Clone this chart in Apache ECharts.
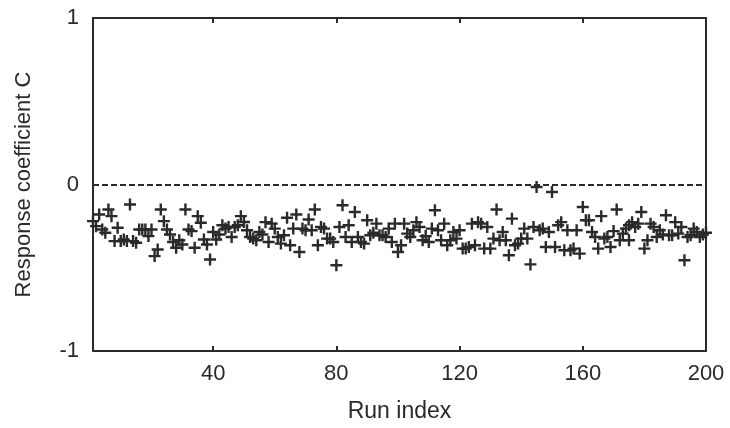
<!DOCTYPE html>
<html>
<head>
<meta charset="utf-8">
<script src="https://cdn.jsdelivr.net/npm/echarts@6/dist/echarts.min.js"></script>
<style>html,body{margin:0;padding:0;background:#fff}#c{width:730px;height:428px}</style>
</head>
<body>
<div id="c"></div>
<script>
var xTicks = [40, 80, 120, 160, 200];
var runIndex = [1,2,3,4,5,6,7,8,9,10,11,12,13,14,15,16,17,18,19,20,21,22,23,24,
  25,26,27,28,29,30,31,32,33,34,35,36,37,38,39,40,41,42,43,44,45,46,47,48,49,50,
  51,52,53,54,55,56,57,58,59,60,61,62,63,64,65,66,67,68,69,70,71,72,73,74,75,
  76,77,78,79,80,81,82,83,84,85,86,87,88,89,90,91,92,93,94,95,96,97,98,99,100,
  101,102,103,104,105,106,107,108,109,110,111,112,113,114,115,116,117,118,119,120,121,122,123,124,
  125,126,127,128,129,130,131,132,133,134,135,136,137,138,139,140,141,142,143,144,145,146,147,148,149,150,151,
  152,153,154,155,156,157,158,159,160,161,162,163,164,165,166,167,168,169,170,171,172,173,174,175,175,176,
  177,178,179,180,181,182,183,184,185,186,187,188,189,190,191,192,193,194,195,196,197,198,199,200];
var coeff = [-0.22,-0.25,-0.18,-0.27,-0.29,-0.15,-0.19,-0.34,-0.26,-0.34,-0.33,-0.34,-0.12,-0.34,-0.35,-0.27,-0.27,-0.27,-0.31,-0.27,-0.43,-0.39,-0.15,-0.22,
  -0.27,-0.30,-0.345,-0.38,-0.335,-0.36,-0.15,-0.27,-0.28,-0.38,-0.19,-0.23,-0.33,-0.36,-0.45,-0.285,-0.33,-0.30,-0.245,-0.265,-0.255,-0.315,-0.255,-0.245,-0.19,-0.225,
  -0.275,-0.315,-0.325,-0.335,-0.285,-0.30,-0.226,-0.345,-0.235,-0.265,-0.315,-0.355,-0.305,-0.20,-0.365,-0.265,-0.18,-0.405,-0.265,-0.275,-0.21,-0.275,-0.15,-0.365,-0.255,
  -0.265,-0.325,-0.325,-0.345,-0.485,-0.255,-0.125,-0.315,-0.245,-0.345,-0.165,-0.315,-0.345,-0.355,-0.215,-0.305,-0.29,-0.235,-0.305,-0.305,-0.315,-0.265,-0.345,-0.235,-0.405,
  -0.365,-0.235,-0.295,-0.315,-0.275,-0.226,-0.255,-0.335,-0.31,-0.345,-0.265,-0.155,-0.275,-0.335,-0.235,-0.365,-0.335,-0.285,-0.325,-0.275,-0.385,-0.385,-0.375,-0.235,
  -0.365,-0.226,-0.235,-0.385,-0.255,-0.385,-0.325,-0.15,-0.335,-0.285,-0.335,-0.425,-0.205,-0.365,-0.355,-0.325,-0.265,-0.325,-0.48,-0.255,-0.015,-0.275,-0.265,-0.375,-0.285,-0.045,-0.375,
  -0.245,-0.226,-0.395,-0.275,-0.395,-0.385,-0.275,-0.415,-0.135,-0.215,-0.215,-0.285,-0.315,-0.385,-0.19,-0.325,-0.315,-0.375,-0.28,-0.15,-0.335,-0.295,-0.265,-0.245,-0.335,-0.226,
  -0.255,-0.235,-0.165,-0.385,-0.335,-0.235,-0.255,-0.315,-0.275,-0.30,-0.185,-0.305,-0.305,-0.226,-0.295,-0.255,-0.455,-0.315,-0.305,-0.265,-0.285,-0.315,-0.30,-0.29,-0.087];
var yTicks = [-1, 0, 1];

var pts = runIndex.map(function (x, i) { return [x, coeff[i]]; });
var FONT = 'Liberation Sans, Arial, sans-serif';
var INK = '#2a2a2a';
var chart = echarts.init(document.getElementById('c'), null, {renderer: 'canvas'});
chart.setOption({
  animation: false,
  backgroundColor: '#ffffff',
  grid: {left: 93, right: 24, top: 18, bottom: 75, containLabel: false},
  xAxis: [{
    type: 'value', min: 1, max: 200, position: 'bottom',
    name: 'Run index', nameLocation: 'middle', nameGap: 49,
    nameTextStyle: {fontFamily: FONT, fontSize: 23, color: INK},
    axisLine: {show: true, onZero: false, lineStyle: {color: INK, width: 2}},
    axisTick: {show: true, inside: true, length: 5, lineStyle: {color: INK, width: 2}, customValues: xTicks},
    axisLabel: {fontFamily: FONT, fontSize: 22, color: INK, margin: 12, customValues: xTicks},
    splitLine: {show: false}
  }, {
    type: 'value', min: 1, max: 200, position: 'top',
    axisLine: {show: true, onZero: false, lineStyle: {color: INK, width: 2}},
    axisTick: {show: true, inside: true, length: 5, lineStyle: {color: INK, width: 2}, customValues: xTicks},
    axisLabel: {show: false},
    splitLine: {show: false}
  }],
  yAxis: [{
    type: 'value', min: -1, max: 1, interval: 1, position: 'left',
    name: 'Response coefficient C', nameLocation: 'middle', nameGap: 58, nameRotate: 90,
    nameTextStyle: {fontFamily: FONT, fontSize: 22, color: INK},
    axisLine: {show: true, onZero: false, lineStyle: {color: INK, width: 2}},
    axisTick: {show: false},
    axisLabel: {fontFamily: FONT, fontSize: 22, color: INK, margin: 14, customValues: yTicks},
    splitLine: {show: false}
  }, {
    type: 'value', min: -1, max: 1, interval: 1, position: 'right',
    axisLine: {show: true, onZero: false, lineStyle: {color: INK, width: 2}},
    axisTick: {show: false}, axisLabel: {show: false}, splitLine: {show: false}
  }],
  series: [{
    type: 'scatter',
    xAxisIndex: 0, yAxisIndex: 0,
    data: pts,
    symbol: 'path://M4,0H6V4H10V6H6V10H4V6H0V4H4Z',
    symbolSize: 12,
    itemStyle: {color: INK, opacity: 1},
    markLine: {
      silent: true, symbol: 'none', label: {show: false},
      lineStyle: {color: INK, width: 1.8, type: [6, 3]},
      data: [{yAxis: 0}]
    }
  }]
});
</script>
</body>
</html>
